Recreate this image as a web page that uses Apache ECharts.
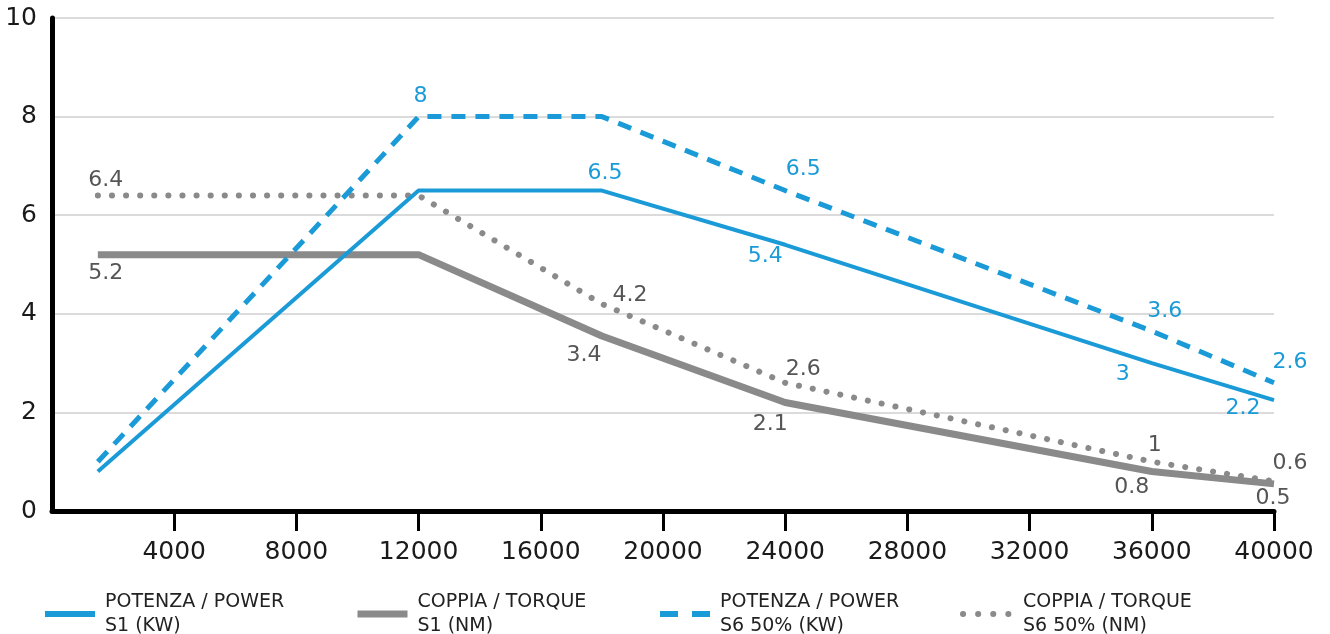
<!DOCTYPE html>
<html>
<head>
<meta charset="utf-8">
<script src="https://cdn.jsdelivr.net/npm/echarts@6/dist/echarts.min.js"></script>
<style>
html,body{margin:0;padding:0;background:#fff;}
#chart{width:1330px;height:634px;}
</style>
</head>
<body>
<div id="chart"></div>
<script>
// ---- data ----
const rpm = [1500, 12000, 18000, 24000, 36000, 40000];
const powerS1 = [0.8, 6.5, 6.5, 5.4, 3.0, 2.25];
const torqueS1 = [5.2, 5.2, 3.55, 2.2, 0.8, 0.55];
const powerS6 = [1.0, 8.0, 8.0, 6.5, 3.65, 2.6];
const torqueS6 = [6.4, 6.4, 4.2, 2.6, 1.0, 0.6];

const powerS1Labels = ['', '', '6.5', '5.4', '3', '2.2'];
const torqueS1Labels = ['5.2', '', '3.4', '2.1', '0.8', '0.5'];
const powerS6Labels = ['', '8', '', '6.5', '3.6', '2.6'];
const torqueS6Labels = ['6.4', '', '4.2', '2.6', '1', '0.6'];

const seriesNames = [
  'POTENZA / POWER\nS1 (KW)',
  'COPPIA / TORQUE\nS1 (NM)',
  'POTENZA / POWER\nS6 50% (KW)',
  'COPPIA / TORQUE\nS6 50% (NM)'
];
const xTicks = [4000, 8000, 12000, 16000, 20000, 24000, 28000, 32000, 36000, 40000];
const xMin = 0, xMax = 40000, xStep = 4000;
const yMin = 0, yMax = 10, yStep = 2;

// ---- styling ----
const BLUE = '#1a9bd8';
const GRAY = '#8a8a8a';
const FONT = 'DejaVu Sans';

const offsets = {
  powerS1: [null, null, [3, -17], [-20, 12], [-29, 11], [-31, 8]],
  torqueS1: [[8, 19], null, [-18, 19], [-15, 22], [-20, 16], [-1, 14]],
  powerS6: [null, [2, -20], null, [18, -21], [13, -20], [16, -21]],
  torqueS6: [[8, -15], null, [28, -9], [18, -14], [3, -16], [16, -18]]
};

function buildData(vals, labels, offs, color) {
  return rpm.map((x, i) => {
    const item = { value: [x, vals[i]] };
    if (labels[i]) {
      item.label = {
        show: true,
        position: 'inside',
        formatter: labels[i],
        offset: offs[i],
        color: color,
        fontSize: 22,
        fontFamily: FONT
      };
    }
    return item;
  });
}

function lineSeries(name, z, lineStyle, color, data) {
  return {
    name: name, type: 'line', z: z,
    symbol: 'circle', symbolSize: 0, showSymbol: true,
    lineStyle: Object.assign({ color: color }, lineStyle),
    itemStyle: { color: color },
    label: { show: false },
    data: data
  };
}

const series = [
  lineSeries(seriesNames[1], 2, { width: 7 }, GRAY,
    buildData(torqueS1, torqueS1Labels, offsets.torqueS1, '#555')),
  lineSeries(seriesNames[3], 3, { width: 6, type: [0.1, 14], cap: 'round' }, GRAY,
    buildData(torqueS6, torqueS6Labels, offsets.torqueS6, '#555')),
  lineSeries(seriesNames[0], 4, { width: 4 }, BLUE,
    buildData(powerS1, powerS1Labels, offsets.powerS1, BLUE)),
  lineSeries(seriesNames[2], 5, { width: 5, type: [14, 10] }, BLUE,
    buildData(powerS6, powerS6Labels, offsets.powerS6, BLUE))
];

const legendLefts = [37, 349, 652, 955];
const legendLines = [
  { width: 6 },
  { width: 7 },
  { width: 6, type: [18, 14] },
  { width: 6, type: [0.1, 15], cap: 'round' }
];
const legends = seriesNames.map((n, i) => ({
  left: legendLefts[i], top: 585, orient: 'horizontal',
  data: [n], itemWidth: 50, itemHeight: 14,
  selectedMode: false,
  itemStyle: { opacity: 0, borderWidth: 0 },
  lineStyle: legendLines[i],
  textStyle: { fontSize: 19, lineHeight: 24, color: '#222', fontFamily: FONT, padding: [0, 0, 0, 5] }
}));

const chart = echarts.init(document.getElementById('chart'), null, { renderer: 'canvas' });
chart.setOption({
  animation: false,
  backgroundColor: '#fff',
  grid: { left: 52, right: 56, top: 18, bottom: 123, containLabel: false },
  legend: legends,
  xAxis: {
    type: 'value', min: xMin, max: xMax, interval: xStep,
    axisLine: { show: true, lineStyle: { color: '#000', width: 5 } },
    axisTick: { show: true, length: 20, customValues: xTicks, lineStyle: { color: '#000', width: 3 } },
    axisLabel: { margin: 29, fontSize: 25, color: '#1a1a1a', fontFamily: FONT, customValues: xTicks,
      formatter: v => String(v) },
    splitLine: { show: false }
  },
  yAxis: {
    type: 'value', min: yMin, max: yMax, interval: yStep,
    axisLine: { show: true, lineStyle: { color: '#000', width: 5 } },
    axisTick: { show: false },
    axisLabel: { margin: 15, fontSize: 25, color: '#1a1a1a', fontFamily: FONT },
    splitLine: { show: true, lineStyle: { color: '#cfcfcf', width: 1.5 } }
  },
  series: series
});
</script>
</body>
</html>
